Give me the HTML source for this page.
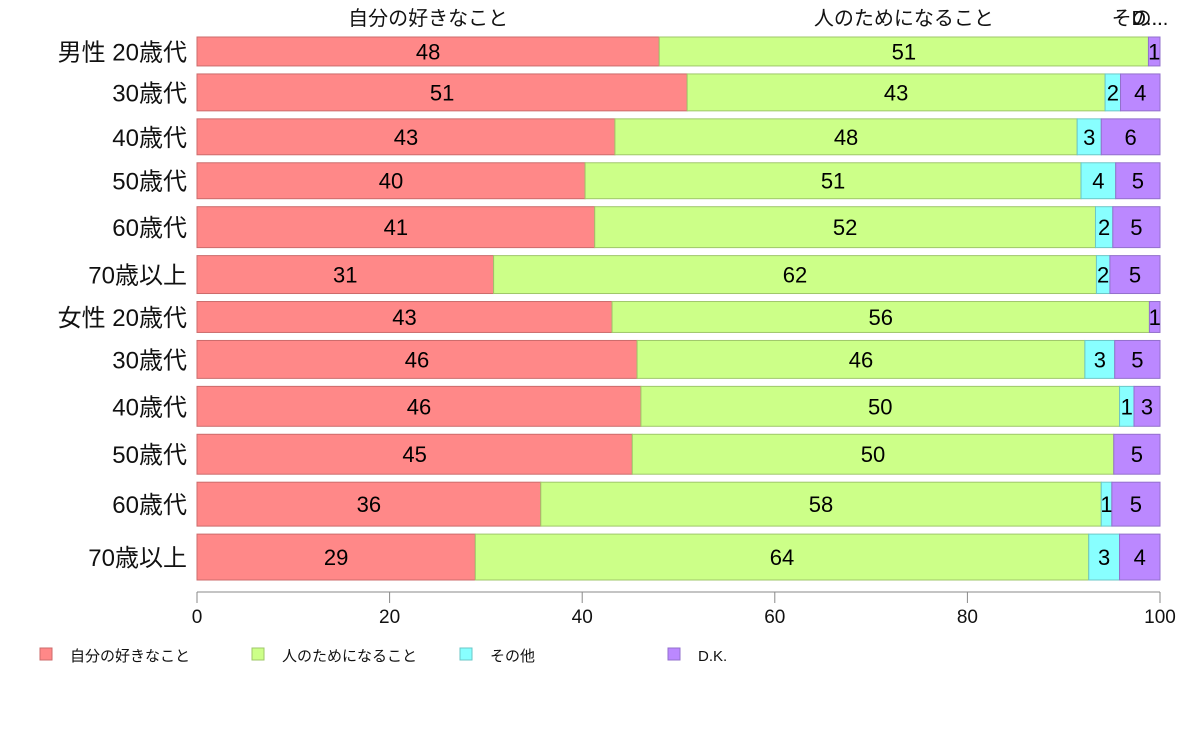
<!DOCTYPE html>
<html><head><meta charset="utf-8">
<style>
html,body{margin:0;padding:0;background:#fff;}
svg{display:block;font-family:"Liberation Sans","Noto Sans CJK JP",sans-serif;}
</style></head>
<body>
<svg id="chart" width="1188" height="736" viewBox="0 0 1188 736" xmlns="http://www.w3.org/2000/svg"></svg>
<script>
const categories = ["男性 20歳代","30歳代","40歳代","50歳代","60歳代","70歳以上","女性 20歳代","30歳代","40歳代","50歳代","60歳代","70歳以上"];
const seriesNames = ["自分の好きなこと","人のためになること","その他","D.K."];
const likes  = [48.0,50.9,43.4,40.3,41.3,30.8,43.1,45.7,46.1,45.2,35.7,28.9];
const others = [50.8,43.4,48.0,51.5,52.0,62.6,55.8,46.5,49.7,50.0,58.2,63.7];
const other  = [0,1.6,2.5,3.6,1.8,1.4,0,3.1,1.5,0,1.1,3.2];
const dk     = [1.2,4.1,6.1,4.6,4.9,5.2,1.1,4.7,2.7,4.8,5.0,4.2];
const likesLbl  = [48,51,43,40,41,31,43,46,46,45,36,29];
const othersLbl = [51,43,48,51,52,62,56,46,50,50,58,64];
const otherLbl  = [0,2,3,4,2,2,0,3,1,0,1,3];
const dkLbl     = [1,4,6,5,5,5,1,5,3,5,5,4];
const weights   = [29,37,36,36,41,38,31,38,40,40,44,46];
const xTicks = [0,20,40,60,80,100];

const svg = document.getElementById('chart');
const NS = "http://www.w3.org/2000/svg";
const X0 = 197, X1 = 1160, TOP = 37, BOTTOM = 580, GAP = 8;
const xs = v => X0 + (X1 - X0) * v / 100;
const colors = ["#ff8888","#ccff88","#88ffff","#bb88ff"];
const strokes = ["#cc6b6b","#9fc76a","#6bc7c7","#9370cc"];
const series = [likes, others, other, dk];
const labels = [likesLbl, othersLbl, otherLbl, dkLbl];
const totalW = weights.reduce((a,b)=>a+b,0);
const unit = (BOTTOM - TOP - GAP*(categories.length-1)) / totalW;

function mk(tag, attrs){ const e=document.createElementNS(NS,tag); for(const k in attrs) e.setAttribute(k,attrs[k]); svg.appendChild(e); return e; }

let y = TOP;
const rowPos = [];
categories.forEach((cat,i)=>{
  const h = weights[i]*unit;
  rowPos.push([y,h]);
  let acc = 0;
  series.forEach((s,j)=>{
    const v = s[i];
    if (v>0){
      const r = mk('rect',{x:xs(acc),y:y,width:xs(acc+v)-xs(acc),height:h,fill:colors[j],stroke:strokes[j],'stroke-width':1});
      
      
      const t = mk('text',{x:(xs(acc)+xs(acc+v))/2,y:y+h/2+8,'text-anchor':'middle','font-size':22,fill:'#000'});
      t.textContent = labels[j][i];
      
      
    }
    acc += v;
  });
  const lab = mk('text',{x:187,y:y+h/2+9,'text-anchor':'end','font-size':24,fill:'#111'});
  lab.textContent = cat;
  
  
  y += h + GAP;
});

// top series labels, centered on first row segments
let acc0 = 0;
const topX = [];
series.forEach((s,j)=>{ topX.push((xs(acc0)+xs(acc0+s[0]))/2); acc0 += s[0]; });
const topTexts = ["自分の好きなこと","人のためになること","その...","D..."];
const topXs = [topX[0], topX[1], 1140, 1147];
topTexts.forEach((tx,j)=>{
  const t = mk('text',{x:topXs[j],y:25,'text-anchor':'middle','font-size':20,fill:'#111'});
  t.textContent = tx;
  
  
});

// x axis
const ax = mk('line',{x1:X0,y1:592,x2:X1,y2:592,stroke:'#888','stroke-width':1});


xTicks.forEach(v=>{
  const tk = mk('line',{x1:xs(v),y1:592,x2:xs(v),y2:603,stroke:'#888','stroke-width':1});
  
  
  const t = mk('text',{x:xs(v),y:623,'text-anchor':'middle','font-size':19,fill:'#111'});
  t.textContent = v;
  
  
});

// legend
const legX = [40,252,460,668];
seriesNames.forEach((n,j)=>{
  const r = mk('rect',{x:legX[j],y:648,width:12,height:12,fill:colors[j],stroke:strokes[j],'stroke-width':1});
  
  
  const t = mk('text',{x:legX[j]+30,y:661,'font-size':15,fill:'#111'});
  t.textContent = n;
  
  
});
</script>
</body></html>
